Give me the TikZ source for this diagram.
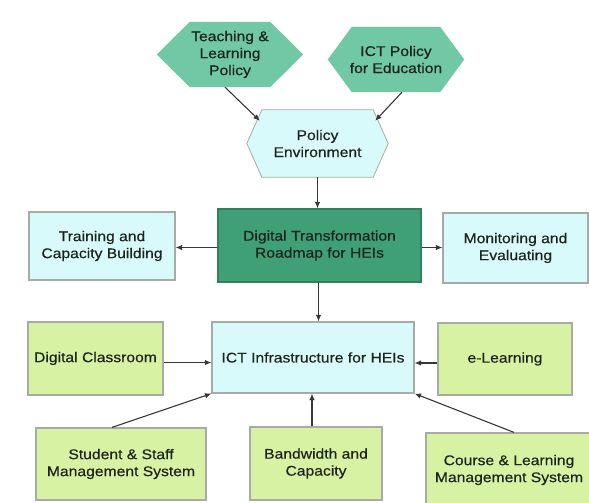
\documentclass[tikz,border=0pt]{standalone}
\usepackage{fontspec}
\setmainfont{Liberation Sans}[FakeStretch=1.12,FakeBold=0.4]
\usetikzlibrary{arrows.meta,backgrounds,calc}
\definecolor{hexg}{RGB}{112,200,164}
\definecolor{darkg}{RGB}{62,160,116}
\definecolor{lblue}{RGB}{216,250,250}
\definecolor{lgreen}{RGB}{216,242,164}
\definecolor{edgec}{RGB}{165,172,165}
\definecolor{arr}{RGB}{55,55,55}
\definecolor{txt}{RGB}{28,34,28}
\begin{document}
\begin{tikzpicture}[x=1pt,y=-1pt,
  every node/.style={font=\fontsize{14}{17}\selectfont, text=txt, align=center, inner sep=0pt},
  boxbase/.style={draw=edgec, line width=1.2pt},
  bluebox/.style={boxbase, fill=lblue},
  greenbox/.style={boxbase, fill=lgreen},
  darkbox/.style={boxbase, draw=darkg!80!black, fill=darkg},
  conn/.style={draw=arr, line width=1.1pt, -{Latex[length=6.5pt,width=5.5pt]}}
]
\useasboundingbox (0,0) rectangle (589,503);
\clip (0,0) rectangle (589,503);
% hexagon nodes (text holders)
\node[minimum width=146pt, minimum height=65pt] (tl) at (230,54.5) {Teaching \&\\Learning\\Policy};
\node[minimum width=136pt, minimum height=65pt] (ip) at (396,59.5) {ICT Policy\\for Education};
\node[minimum width=141pt, minimum height=67pt] (pe) at (317.5,143.5) {Policy\\Environment};
\begin{scope}[on background layer]
  \fill[white] (0,0) rectangle (589,503);
  \fill[hexg] (tl.west) -- ([xshift=33pt]tl.north west) -- ([xshift=-33pt]tl.north east) -- (tl.east) -- ([xshift=-33pt]tl.south east) -- ([xshift=33pt]tl.south west) -- cycle;
  \fill[hexg] (ip.west) -- ([xshift=24pt]ip.north west) -- ([xshift=-24pt]ip.north east) -- (ip.east) -- ([xshift=-24pt]ip.south east) -- ([xshift=24pt]ip.south west) -- cycle;
  \filldraw[fill=lblue, draw=edgec, line width=0.8pt] (pe.west) -- ([xshift=15pt]pe.north west) -- ([xshift=-15pt]pe.north east) -- (pe.east) -- ([xshift=-15pt]pe.south east) -- ([xshift=15pt]pe.south west) -- cycle;
\end{scope}
% boxes
\node[bluebox, minimum width=146pt, minimum height=68pt] (tr) at (102,246) {Training and\\Capacity Building};
\node[darkbox, minimum width=203pt, minimum height=73pt] (rm) at (319.5,245.5) {Digital Transformation\\Roadmap for HEIs};
\node[bluebox, minimum width=145pt, minimum height=70pt] (mo) at (515.5,248) {Monitoring and\\Evaluating};
\node[greenbox, minimum width=135pt, minimum height=73pt] (dc) at (95.5,358.5) {Digital Classroom};
\node[bluebox, minimum width=202pt, minimum height=71pt] (ict) at (313,357.5) {ICT Infrastructure for HEIs};
\node[greenbox, minimum width=134pt, minimum height=72pt] (el) at (505,359) {e-Learning};
\node[greenbox, minimum width=170pt, minimum height=72pt] (ss) at (121,464) {Student \& Staff\\Management System};
\node[greenbox, minimum width=132pt, minimum height=73pt] (bw) at (316,463.5) {Bandwidth and\\Capacity};
\node[greenbox, minimum width=166pt, minimum height=74pt] (cl) at (509,470) {Course \& Learning\\Management System};
% connectors
\draw[conn] ([xshift=-5pt]tl.south) -- ([xshift=13pt,yshift=-11pt]pe.north west);
\draw[conn] ([xshift=6pt]ip.south) -- ([xshift=-13pt,yshift=-11pt]pe.north east);
\draw[conn] (pe.south) -- (pe.south |- rm.north);
\draw[conn] ([yshift=-2pt]rm.west) -- ([yshift=-2pt]rm.west -| tr.east);
\draw[conn] ([yshift=-2pt]rm.east) -- ([yshift=-2pt]rm.east -| mo.west);
\draw[conn] ([xshift=-1pt]rm.south) -- ([xshift=-1pt]rm.south |- ict.north);
\draw[conn] ([yshift=-4pt]dc.east) -- ([yshift=-4pt]dc.east -| ict.west);
\draw[conn] ([yshift=-4pt]el.west) -- ([yshift=-4pt]el.west -| ict.east);
\draw[conn] ([xshift=-9pt]ss.north) -- (ict.south west);
\draw[conn] ([xshift=-4pt]bw.north) -- ([xshift=-4pt]bw.north |- ict.south);
\draw[conn] ([xshift=5pt]cl.north) -- (ict.south east);
\end{tikzpicture}
\end{document}
